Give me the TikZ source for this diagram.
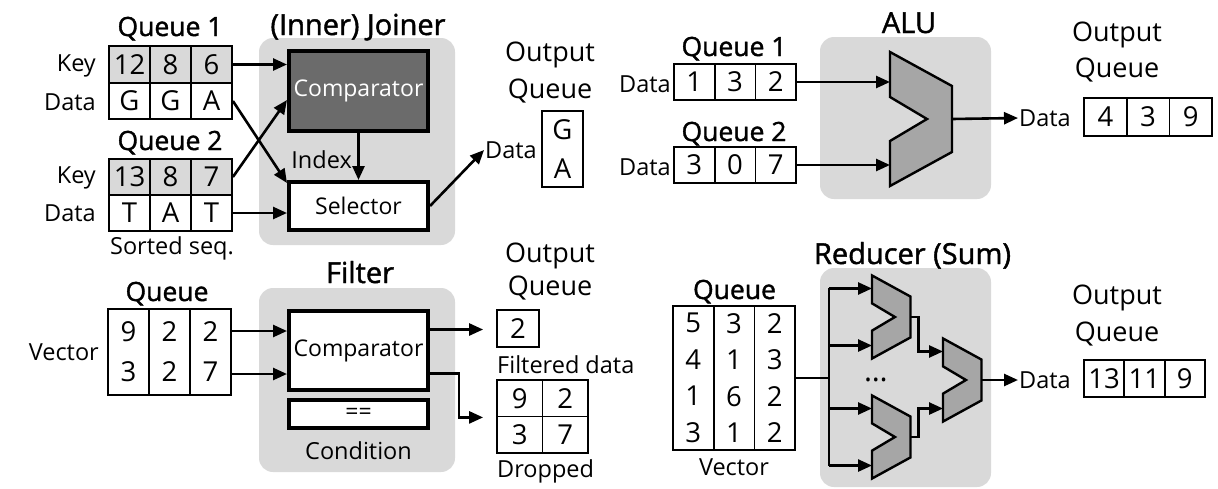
\documentclass[tikz,border=0pt]{standalone}
\usepackage{fontspec}
\setmainfont{Open Sans}
\newfontfamily\semifont[FakeBold=1.4]{Open Sans}
\usetikzlibrary{arrows.meta,calc}

\definecolor{panelgray}{HTML}{D9D9D9}
\definecolor{keygray}{HTML}{D9D9D9}
\definecolor{darkunit}{HTML}{6B6B6B}
\definecolor{alugray}{HTML}{A6A6A6}

\newcommand\celltxt{\fontsize{27.5}{36.5}\selectfont}
\newcommand\lbltxt{\fontsize{23.5}{26}\selectfont}
\newcommand\qtitletxt{\semifont\fontsize{26.5}{30}\selectfont}
\newcommand\utitletxt{\semifont\fontsize{29}{32}\selectfont}
\newcommand\outqtxt{\fontsize{27}{30}\selectfont}
\newcommand\unittxt{\fontsize{23}{26}\selectfont}

\tikzset{
  qcell/.style={draw, line width=1.8pt, minimum width=41pt, minimum height=36.5pt,
    inner sep=0pt, font=\celltxt},
  lbl/.style={font=\lbltxt, inner sep=1pt},
  qtitle/.style={font=\qtitletxt, anchor=base, inner sep=0pt},
  utitle/.style={font=\utitletxt, anchor=base, inner sep=0pt},
  outq/.style={font=\outqtxt, anchor=base, inner sep=0pt},
  unitbox/.style={draw, line width=4pt, minimum width=139pt, inner sep=0pt, font=\unittxt},
  panel/.style={fill=panelgray, rounded corners=14pt},
  arr/.style={-{Triangle[length=14pt,width=12pt]}, line width=2.6pt},
  wire/.style={line width=2.6pt},
  alubody/.style={fill=alugray, draw=black, line width=2.4pt, line join=miter},
  alu/.pic={
    \draw[alubody] (0,-67) -- (62,-33) -- (62,33) -- (0,67) -- (0,22) -- (37,0) -- (0,-22) -- cycle;
    \coordinate (-w) at (0,0);
    \coordinate (-e) at (62,0);
    \coordinate (-in1) at (0,-46);
    \coordinate (-in2) at (0,46);
  }
}

\begin{document}
\begin{tikzpicture}[x=1pt,y=-1pt]
  \useasboundingbox (0,0) rectangle (1218,488);

  % (inner) joiner
  \fill[panel] (259,38) rectangle (455,245);
  \node[utitle] (jtitle) at (358,35) {(Inner) Joiner};
  \node[qtitle] (jq1t) at (170,36) {Queue 1};
  \foreach \v [count=\i] in {12,8,6}
    \node[qcell, fill=keygray] (jk\i) at ({88.5+41*\i},64.5) {\v};
  \foreach \v [count=\i] in {G,G,A}
    \node[qcell] (jd\i) at ({88.5+41*\i},101) {\v};
  \node[lbl, anchor=east] (jkey1) at (97,66) {Key};
  \node[lbl, anchor=east] (jdat1) at (97,102) {Data};
  \node[qtitle] (jq2t) at (170,150) {Queue 2};
  \foreach \v [count=\i] in {13,8,7}
    \node[qcell, fill=keygray] (jkk\i) at ({88.5+41*\i},177) {\v};
  \foreach \v [count=\i] in {T,A,T}
    \node[qcell] (jdd\i) at ({88.5+41*\i},213) {\v};
  \node[lbl, anchor=east] (jkey2) at (97,178) {Key};
  \node[lbl, anchor=east] (jdat2) at (97,213) {Data};
  \node[lbl] (jsort) at (172,248) {Sorted seq.};
  \node[unitbox, fill=darkunit, text=white, minimum height=80pt] (jcmp) at (358.5,91) {Comparator};
  \node[unitbox, fill=white, minimum height=48pt] (jsel) at (358.5,206) {Selector};
  \node[lbl, anchor=east] (jidx) at (353,160) {Index};
  \draw[arr] (jcmp) -- (jsel);
  \draw[arr] (jk3.east) -- (jk3.east -| jcmp.west);
  \draw[arr] (jd3.east) -- ($(jsel.north west)+(0,3)$);
  \draw[arr] (jkk3.east) -- ($(jcmp.south west)+(0,-33)$);
  \draw[arr] (jdd3.east) -- (jdd3.east -| jsel.west);
  \node[outq] (jo1) at (550,61) {Output};
  \node[outq] (jo2) at (550,98) {Queue};
  \node[qcell, minimum height=76pt, align=center, font={\fontsize{27.5}{39}\selectfont}] (jout) at (562.5,149) {G\\A};
  \node[lbl, anchor=east] (jodat) at (538,150) {Data};
  \draw[arr] (jsel.east) -- (jodat.west);

  % filter
  \fill[panel] (259,288) rectangle (455,472);
  \node[utitle] (ftitle) at (360,283) {Filter};
  \node[qtitle] (fqt) at (167,301) {Queue};
  \foreach \a/\b [count=\i] in {9/3,2/2,2/7}
    \node[qcell, minimum height=86pt, align=center, font={\fontsize{27.5}{40}\selectfont}] (fv\i) at ({87.5+41*\i},352) {\a\\\b};
  \node[lbl, anchor=east] (fvec) at (100,352) {Vector};
  \node[unitbox, fill=white, minimum height=79pt] (fcmp) at (358.5,350.5) {Comparator};
  \node[unitbox, fill=white, minimum height=28pt] (fcond) at (358.5,414) {==};
  \node[lbl] (fcondl) at (358.5,451) {Condition};
  \coordinate (fin1) at ($(fv3.east)+(0,-21)$);
  \coordinate (fin2) at ($(fv3.east)+(0,22)$);
  \draw[arr] (fin1) -- (fin1 -| fcmp.west);
  \draw[arr] (fin2) -- (fin2 -| fcmp.west);
  \node[outq] (fo1) at (550,262) {Output};
  \node[outq] (fo2) at (550,295) {Queue};
  \node[qcell, minimum width=42pt, minimum height=37pt] (ffilt) at (518,328.5) {2};
  \node[lbl, anchor=west] (ffl) at (496,365) {Filtered data};
  \foreach \v [count=\i] in {9,2}
    \node[qcell, minimum width=45.5pt] (fm1\i) at ({474.25+45.5*\i},398.25) {\v};
  \foreach \v [count=\i] in {3,7}
    \node[qcell, minimum width=45.5pt] (fm2\i) at ({474.25+45.5*\i},434.75) {\v};
  \node[lbl, anchor=west] (fdl) at (496,471) {Dropped};
  \coordinate (ftip1) at ($(ffilt.west)+(-13,0)$);
  \coordinate (ftip2) at ($(fm11.south west)+(-13,0)$);
  \coordinate (fout1) at ($(fcmp.east)+(0,-21)$);
  \coordinate (fout2) at ($(fcmp.east)+(0,23)$);
  \draw[arr] (fout1) -- (fout1 -| ftip1);
  \draw[arr] (fout2) -- ++(29,0) |- (ftip2);

  % alu
  \fill[panel] (820,37) rectangle (991,199);
  \node[utitle] (atitle) at (909,33) {ALU};
  \node[qtitle] (aq1t) at (734,56) {Queue 1};
  \foreach \v [count=\i] in {1,3,2}
    \node[qcell, minimum width=40.7pt, minimum height=36pt] (aa\i) at ({653.65+40.7*\i},82) {\v};
  \node[lbl, anchor=east] (aq1d) at (672,84) {Data};
  \node[qtitle] (aq2t) at (734,141) {Queue 2};
  \foreach \v [count=\i] in {3,0,7}
    \node[qcell, minimum width=40.7pt, minimum height=36pt] (ab\i) at ({653.65+40.7*\i},165) {\v};
  \node[lbl, anchor=east] (aq2d) at (672,167) {Data};
  \pic (alu) at (890,119) {alu};
  \draw[arr] (aa3.east) -- (aa3.east -| alu-w);
  \draw[arr] (ab3.east) -- (ab3.east -| alu-w);
  \node[lbl, anchor=west] (aodat) at (1018,118) {Data};
  \draw[arr] (alu-e) -- (aodat.west);
  \foreach \v [count=\i] in {4,3,9}
    \node[qcell, minimum width=42.7pt, minimum height=38pt] (ao\i) at ({1062.65+42.7*\i},117) {\v};
  \node[outq] (ao1t) at (1117,41) {Output};
  \node[outq] (ao2t) at (1117,77) {Queue};

  % reducer (sum)
  \fill[panel] (820,268) rectangle (991,487);
  \node[utitle] (rtitle) at (912.5,264) {Reducer (Sum)};
  \node[qtitle] (rqt) at (734.5,299) {Queue};
  \foreach \a/\b/\c/\d [count=\i] in {5/4/1/3,3/1/6/1,2/3/2/2}
    \node[qcell, minimum width=40.7pt, minimum height=144pt, align=center, font={\fontsize{27.5}{36.5}\selectfont}] (rv\i) at ({652.65+40.7*\i},378) {\a\\\b\\\c\\\d};
  \node[lbl] (rvec) at (734,467) {Vector};
  \pic[scale=0.62] (s1) at (872,317) {alu};
  \pic[scale=0.62] (s2) at (872,437) {alu};
  \pic[scale=0.62] (big) at (943,380) {alu};
  \coordinate (bus) at (829,378);
  \draw[wire] (rv3.east) -- (rv3.east -| bus);
  \draw[wire] (bus |- s1-in1) -- (bus |- s2-in2);
  \foreach \s in {s1,s2}
    \foreach \k in {in1,in2}
      \draw[arr] (bus |- \s-\k) -- (\s-\k);
  \draw[arr] (s1-e) -- ++(8,0) |- (big-in1);
  \draw[arr] (s2-e) -- ++(8,0) |- (big-in2);
  \node[font={\fontsize{30}{30}\selectfont}] (rdots) at (876,380) {…};
  \node[lbl, anchor=west] (rodat) at (1018,380) {Data};
  \draw[arr] (big-e) -- (rodat.west);
  \foreach \v [count=\i] in {13,11,9}
    \node[qcell, minimum width=40.3pt, minimum height=37pt] (ro\i) at ({1063.85+40.3*\i},378.5) {\v};
  \node[outq] (ro1t) at (1117,304) {Output};
  \node[outq] (ro2t) at (1117,341) {Queue};
\end{tikzpicture}
\end{document}
